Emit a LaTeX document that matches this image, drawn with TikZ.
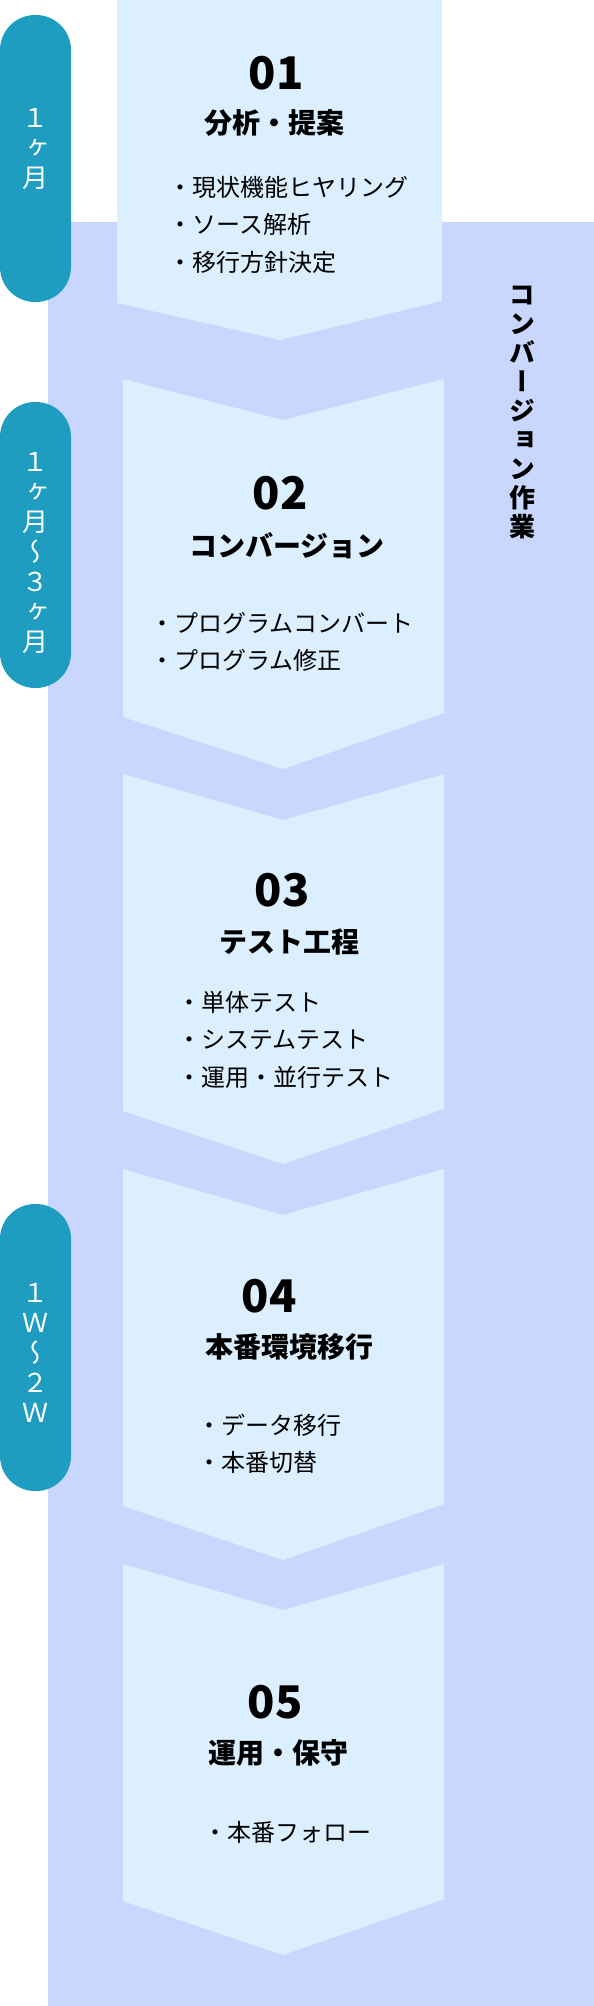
\documentclass[tikz,border=0pt]{standalone}
\usepackage{fontspec}
\setmainfont{Noto Sans CJK JP}
\newfontfamily\vjp[RawFeature=+vert]{Noto Sans CJK JP}
\usetikzlibrary{positioning}
\definecolor{band}{HTML}{C9D6FD}
\definecolor{sheetblue}{HTML}{DCEFFE}
\definecolor{pillblue}{HTML}{1F9DC1}
\tikzstyle{sheet} = [fill=sheetblue]
\tikzstyle{pill} = [fill=pillblue, rounded corners=35pt]
\tikzstyle{num} = [font=\fontsize{45}{45}\selectfont\bfseries, inner sep=0pt]
\tikzstyle{title} = [font=\fontsize{28}{28}\selectfont\bfseries, inner sep=0pt]
\tikzstyle{item} = [font=\fontsize{24}{24}\selectfont, inner sep=0pt, text height=21pt,
text depth=3pt]
\tikzstyle{period} = [font=\vjp\fontsize{26}{30}\selectfont, text=white, align=center,
inner sep=0pt]

\begin{document}
\begin{tikzpicture}[x=1pt, y=-1pt, node distance=13.5pt]
  \useasboundingbox (0,0) rectangle (594,2006);

  \fill[band] (48,222) rectangle (594,2006);

  \fill[sheet] (117,0) -- (442,0) -- (442,301) -- (280,340) -- (117,303) -- cycle;
  \fill[sheet] (123,379) -- (283,420) -- (444,379) -- (444,713) -- (283,769) -- (123,717) -- cycle;
  \fill[sheet] (123,774) -- (283,820) -- (444,774) -- (444,1109) -- (283,1164) -- (123,1111) -- cycle;
  \fill[sheet] (123,1169) -- (283,1215) -- (444,1169) -- (444,1504) -- (283,1560) -- (123,1506) -- cycle;
  \fill[sheet] (123,1564) -- (283,1610) -- (444,1564) -- (444,1899) -- (283,1955) -- (123,1901) -- cycle;

  \fill[pill] (0,15) rectangle (71,302);
  \fill[pill] (0,402) rectangle (71,688);
  \fill[pill] (0,1204) rectangle (71,1491);

  \node (period1) [period] at (36,149) {１\\ヶ\\月};
  \node (period2) [period] at (36,553) {１\\ヶ\\月\\〜\\３\\ヶ\\月};
  \node (period3) [period] at (36,1353) {１\\Ｗ\\〜\\２\\Ｗ};

  \node (conv) [period, text=black, font=\vjp\fontsize{26}{29}\selectfont\bfseries] at (522,412)
  {コ\\ン\\バ\\ー\\ジ\\ョ\\ン\\作\\業};

  % 01
  \node (num01) [num] at (276,73) {01};
  \node (title01) [title] at (274,123) {分析・提案};
  \node (item01a) [item, anchor=west] at (168,187) {・現状機能ヒヤリング};
  \node (item01b) [item, below=of item01a.south west, anchor=north west] {・ソース解析};
  \node (item01c) [item, below=of item01b.south west, anchor=north west] {・移行方針決定};

  % 02
  \node (num02) [num] at (280,493) {02};
  \node (title02) [title] at (287,546) {コンバージョン};
  \node (item02a) [item, anchor=west] at (150,623) {・プログラムコンバート};
  \node (item02b) [item, below=of item02a.south west, anchor=north west] {・プログラム修正};

  % 03
  \node (num03) [num] at (282,890) {03};
  \node (title03) [title] at (289,942) {テスト工程};
  \node (item03a) [item, anchor=west] at (177,1002) {・単体テスト};
  \node (item03b) [item, below=of item03a.south west, anchor=north west] {・システムテスト};
  \node (item03c) [item, below=of item03b.south west, anchor=north west] {・運用・並行テスト};

  % 04
  \node (num04) [num] at (269,1296) {04};
  \node (title04) [title] at (289,1347) {本番環境移行};
  \node (item04a) [item, anchor=west] at (197,1425) {・データ移行};
  \node (item04b) [item, below=of item04a.south west, anchor=north west] {・本番切替};

  % 05
  \node (num05) [num] at (275,1702) {05};
  \node (title05) [title] at (278,1753) {運用・保守};
  \node (item05a) [item, anchor=west] at (203,1832) {・本番フォロー};

\end{tikzpicture}
\end{document}
